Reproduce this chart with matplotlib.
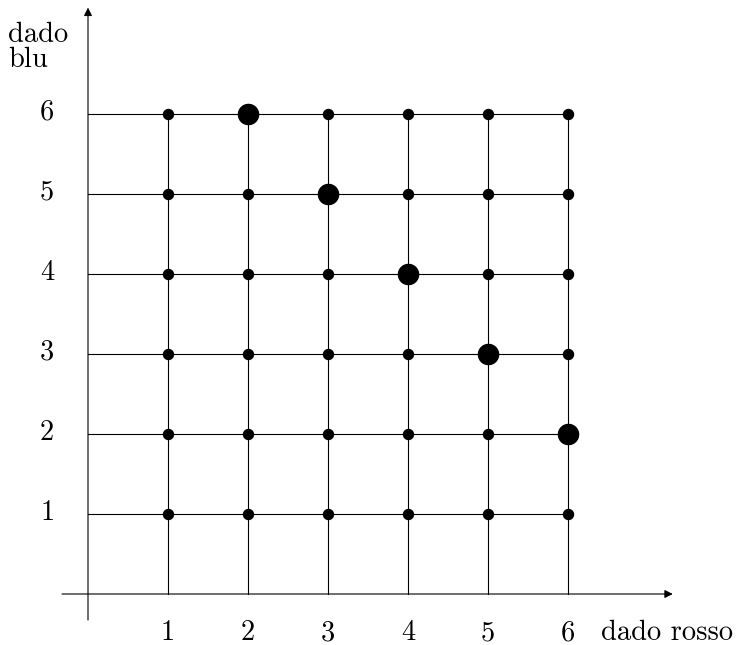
import matplotlib
matplotlib.use("Agg")
import matplotlib.pyplot as plt

plt.rcParams['font.family'] = ['cmr10', 'DejaVu Serif']
plt.rcParams['axes.formatter.use_mathtext'] = True

# dati: tutte le coppie dei due dadi, evidenziate quelle con somma 8
facce = [1, 2, 3, 4, 5, 6]
rosso_evid = [2, 3, 4, 5, 6]
blu_evid = [6, 5, 4, 3, 2]
etichetta_x = 'dado rosso'
etichetta_y = 'dado\nblu'

fig = plt.figure(figsize=(7.36, 6.45), dpi=100)
ax = fig.add_axes([0, 0, 1, 1])
ax.set_xlim(-1.1, 8.1)
ax.set_ylim(-0.6375, 7.425)
ax.axis('off')

# griglia
for f in facce:
    ax.plot([0, 6], [f, f], color='black', lw=0.8, zorder=1)
    ax.plot([f, f], [0, 6], color='black', lw=0.8, zorder=1)

# assi con frecce
ax.annotate('', xy=(7.31, 0), xytext=(-0.325, 0),
            arrowprops=dict(arrowstyle='-|>', lw=0.8, color='black', mutation_scale=12, shrinkA=0, shrinkB=0))
ax.annotate('', xy=(0, 7.33), xytext=(0, -0.325),
            arrowprops=dict(arrowstyle='-|>', lw=0.8, color='black', mutation_scale=12, shrinkA=0, shrinkB=0))

# punti
xs = [r for b in facce for r in facce]
ys = [b for b in facce for r in facce]
ax.scatter(xs, ys, s=52, color='black', zorder=3)
ax.scatter(rosso_evid, blu_evid, s=210, color='black', zorder=4)

# etichette
fs = 20.5
for f in facce:
    ax.text(f, -0.49, str(f), ha='center', va='center', fontsize=fs)
    ax.text(-0.51, f + 0.02, str(f), ha='center', va='center', fontsize=fs)
ax.text(6.41, -0.49, etichetta_x, ha='left', va='center', fontsize=fs)
ax.text(-1.0, 6.83, etichetta_y, ha='left', va='center', fontsize=fs, linespacing=0.95)

fig.savefig('out.png', dpi=100)
